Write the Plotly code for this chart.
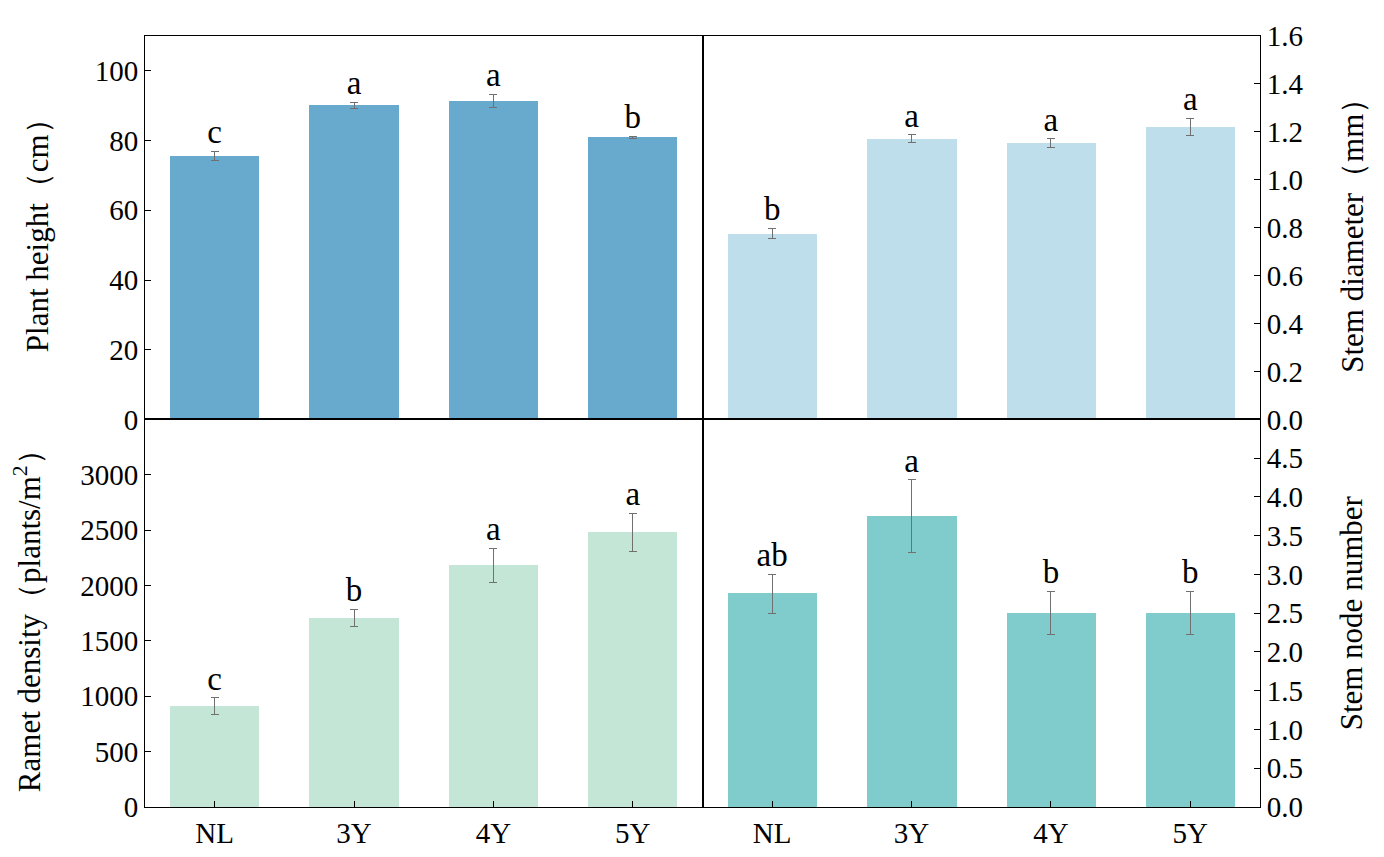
import plotly.graph_objects as go
from plotly.subplots import make_subplots

groups = ["NL", "3Y", "4Y", "5Y"]

plant_height = [75.6, 90.1, 91.4, 81.0]
plant_height_err = [1.4, 0.9, 1.8, 0.3]
plant_height_sig = ["c", "a", "a", "b"]

stem_diameter = [0.776, 1.171, 1.152, 1.220]
stem_diameter_err = [0.022, 0.017, 0.019, 0.036]
stem_diameter_sig = ["b", "a", "a", "a"]

ramet_density = [910, 1707, 2180, 2480]
ramet_density_err = [75, 80, 155, 172]
ramet_density_sig = ["c", "b", "a", "a"]

stem_node = [2.75, 3.75, 2.5, 2.5]
stem_node_err = [0.25, 0.47, 0.28, 0.28]
stem_node_sig = ["ab", "a", "b", "b"]

FONT = "Liberation Serif"


def add_panel(fig, row, col, values, errors, letters, color):
    fig.add_trace(
        go.Bar(
            x=groups,
            y=values,
            width=0.64,
            marker=dict(color=color, line=dict(width=0)),
            error_y=dict(type="data", array=errors, color="#707070", thickness=1, width=4),
            showlegend=False,
        ),
        row=row,
        col=col,
    )
    # significance letters sit just above the error bar
    fig.add_trace(
        go.Scatter(
            x=groups,
            y=[v + e for v, e in zip(values, errors)],
            mode="text",
            text=letters,
            textposition="top center",
            textfont=dict(family=FONT, size=33, color="black"),
            showlegend=False,
            cliponaxis=False,
        ),
        row=row,
        col=col,
    )


fig = make_subplots(rows=2, cols=2, horizontal_spacing=0, vertical_spacing=0)

add_panel(fig, 1, 1, plant_height, plant_height_err, plant_height_sig, "#67AACD")
add_panel(fig, 1, 2, stem_diameter, stem_diameter_err, stem_diameter_sig, "#BEDEEC")
add_panel(fig, 2, 1, ramet_density, ramet_density_err, ramet_density_sig, "#C3E6D7")
add_panel(fig, 2, 2, stem_node, stem_node_err, stem_node_sig, "#80CBCB")

axis_style = dict(
    showline=True,
    linecolor="black",
    linewidth=1,
    mirror=True,
    ticks="inside",
    ticklen=6,
    tickwidth=1.2,
    tickcolor="black",
    showgrid=False,
    zeroline=False,
    tickfont=dict(family=FONT, size=29, color="black"),
)

for r in (1, 2):
    for c in (1, 2):
        fig.update_xaxes(axis_style, range=[-0.5, 3.5], row=r, col=c)
fig.update_xaxes(ticks="", showticklabels=False, row=1, col=1)
fig.update_xaxes(ticks="", showticklabels=False, row=1, col=2)

# bottom row is a touch taller than the top one
split = 0.5026
fig.update_yaxes(domain=[split, 1], row=1)
fig.update_yaxes(domain=[0, split], row=2)

title_font = dict(family=FONT, size=31, color="black")
fig.update_yaxes(axis_style, range=[0, 110], tickvals=[0, 20, 40, 60, 80, 100],
                 title=dict(text="Plant height（cm）", standoff=36, font=title_font), row=1, col=1)
fig.update_yaxes(axis_style, range=[0, 1.6], tickvals=[0, 0.2, 0.4, 0.6, 0.8, 1.0, 1.2, 1.4, 1.6],
                 tickformat=".1f", side="right",
                 title=dict(text="Stem diameter（mm）", standoff=38, font=title_font), row=1, col=2)
fig.update_yaxes(axis_style, range=[0, 3500], tickvals=[0, 500, 1000, 1500, 2000, 2500, 3000],
                 title=dict(text="Ramet density（plants/m<sup>2</sup>）", standoff=36, font=title_font),
                 row=2, col=1)
fig.update_yaxes(axis_style, range=[0, 5], tickvals=[0, 0.5, 1, 1.5, 2, 2.5, 3, 3.5, 4, 4.5],
                 tickformat=".1f", side="right",
                 title=dict(text="Stem node number", standoff=38, font=title_font), row=2, col=2)

# the page body adds 8px around the figure, so the margins absorb it
fig.update_layout(
    width=1384,
    height=857,
    margin=dict(l=137, r=132, t=21, b=58),
    plot_bgcolor="white",
    paper_bgcolor="white",
    font=dict(family=FONT, size=29, color="black"),
    bargap=0,
)

fig.write_html("out.html")
